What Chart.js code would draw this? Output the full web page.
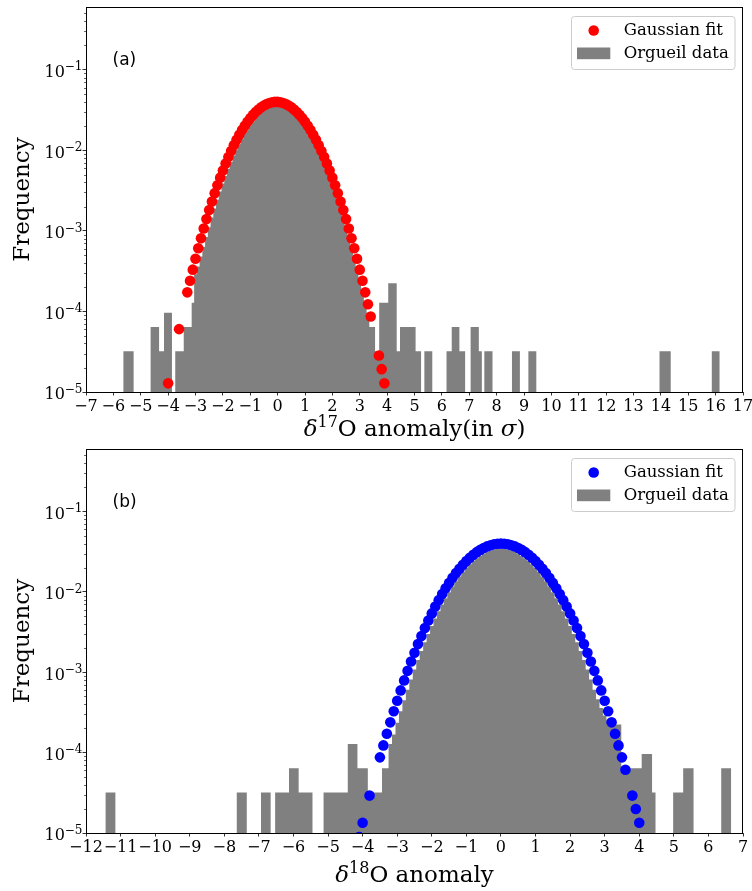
<!DOCTYPE html>
<html><head><meta charset="utf-8">
<script src="https://cdn.jsdelivr.net/npm/chart.js@4/dist/chart.umd.min.js"></script>
<style>
html,body{margin:0;padding:0;background:#fff;}
#wrap{position:relative;width:752px;height:891px;overflow:hidden;}
canvas{position:absolute;left:0;}
</style></head><body>
<div id="wrap">
<canvas id="ca" width="752" height="452" style="top:0"></canvas>
<canvas id="cb" width="752" height="451" style="top:440px"></canvas>
</div>
<script>
// ---------------- data ----------------
const yMin = 1e-5, yMax = 0.6;
const yDecades = [1e-5, 1e-4, 1e-3, 1e-2, 1e-1];
const yExponents = ['\u22125', '\u22124', '\u22123', '\u22122', '\u22121'];

// Panel (a): delta-17O
const xTicksA = [-7,-6,-5,-4,-3,-2,-1,0,1,2,3,4,5,6,7,8,9,10,11,12,13,14,15,16,17];
const histEdgesA = [-5.64,-5.26,-4.64,-4.33,-4.15,-3.86,-3.74,-3.43,-3.14,-3.05,
  -2.95,-2.85,-2.75,-2.65,-2.55,-2.45,-2.35,-2.25,-2.15,-2.05,-1.95,-1.85,-1.75,-1.65,-1.55,-1.45,-1.35,-1.25,-1.15,-1.05,
  -0.95,-0.85,-0.75,-0.65,-0.55,-0.45,-0.35,-0.25,-0.15,-0.05,0.05,0.15,0.25,0.35,0.45,0.55,0.65,0.75,0.85,0.95,
  1.05,1.15,1.25,1.35,1.45,1.55,1.65,1.75,1.85,1.95,2.05,2.15,2.25,2.35,2.45,2.55,2.65,2.75,2.85,2.95,3.05,3.15,3.25,3.35,3.45,
  3.56,3.71,4.04,4.35,4.47,5.04,5.24,5.36,5.65,6.17,6.36,6.64,6.85,7.05,7.35,7.46,7.55,7.85,8.56,8.85,9.16,9.45,13.95,14.36,15.86,16.15];
const histFreqA = [3.2e-5,0,6.4e-5,3.2e-5,9.6e-5,0,3.2e-5,6.4e-5,1.28e-4,
  2.9e-4,3.6e-4,4.8e-4,6.3e-4,8.4e-4,1.11e-3,1.46e-3,1.89e-3,2.43e-3,3.08e-3,3.87e-3,4.80e-3,5.90e-3,7.16e-3,8.60e-3,
  0.01021,0.01198,0.01392,0.01599,0.01816,0.02040,0.02266,0.02490,0.02706,0.02908,0.03091,0.03249,0.03377,0.03472,0.03530,
  0.0355,
  0.03530,0.03472,0.03377,0.03249,0.03091,0.02908,0.02706,0.02490,0.02266,0.02040,0.01816,0.01599,0.01392,0.01198,0.01021,
  8.60e-3,7.16e-3,5.90e-3,4.80e-3,3.87e-3,3.08e-3,2.43e-3,1.89e-3,1.46e-3,1.11e-3,8.4e-4,6.3e-4,4.6e-4,3.4e-4,2.4e-4,1.6e-4,1.28e-4,9.6e-5,6.4e-5,
  6.4e-5,3.2e-5,1.28e-4,2.24e-4,3.2e-5,6.4e-5,3.2e-5,0,3.2e-5,0,3.2e-5,6.4e-5,3.2e-5,0,6.4e-5,3.2e-5,0,3.2e-5,0,3.2e-5,0,3.2e-5,0,3.2e-5,0,3.2e-5];
const fitXA = [-4.0,-3.6,-3.3,-3.2,-3.1,-3.0,-2.9,-2.8,-2.7,-2.6,-2.5,-2.4,-2.3,-2.2,-2.1,-2.0,-1.9,-1.8,-1.7,-1.6,-1.5,-1.4,-1.3,-1.2,-1.1,-1.0,
  -0.9,-0.8,-0.7,-0.6,-0.5,-0.4,-0.3,-0.2,-0.1,0.0,0.1,0.2,0.3,0.4,0.5,0.6,0.7,0.8,0.9,1.0,1.1,1.2,1.3,1.4,1.5,1.6,1.7,1.8,1.9,2.0,
  2.1,2.2,2.3,2.4,2.5,2.6,2.7,2.8,2.9,3.0,3.1,3.2,3.3,3.4,3.7,3.8,3.9];
const fitYA = [1.28e-5,6.03e-5,1.726e-4,2.40e-4,3.30e-4,4.50e-4,6.07e-4,8.10e-4,1.070e-3,1.399e-3,1.809e-3,2.317e-3,2.937e-3,3.685e-3,4.576e-3,
  5.622e-3,6.839e-3,8.233e-3,9.809e-3,0.011569,0.013503,0.015599,0.017835,0.020184,0.022605,0.025060,0.027496,0.029859,0.032094,0.034140,
  0.035945,0.037460,0.038636,0.039440,0.039849,0.039849,0.039440,0.038636,0.037460,0.035945,0.034140,0.032094,0.029859,0.027496,0.025060,
  0.022605,0.020184,0.017835,0.015599,0.013503,0.011569,9.809e-3,8.233e-3,6.839e-3,5.622e-3,4.576e-3,3.685e-3,2.937e-3,2.317e-3,1.809e-3,
  1.399e-3,1.070e-3,8.10e-4,6.07e-4,4.50e-4,3.30e-4,2.40e-4,1.726e-4,1.230e-4,8.65e-5,2.84e-5,1.92e-5,1.28e-5];

// Panel (b): delta-18O
const xTicksB = [-12,-11,-10,-9,-8,-7,-6,-5,-4,-3,-2,-1,0,1,2,3,4,5,6,7];
const histEdgesB = [-11.44,-11.15,-7.64,-7.35,-6.94,-6.66,-6.53,-6.13,-5.85,-5.45,-5.13,-4.43,-4.15,-3.85,-3.44,-3.25,
  -3.15,-3.05,-2.95,-2.85,-2.75,-2.65,-2.55,-2.45,-2.35,-2.25,-2.15,-2.05,-1.95,-1.85,-1.75,-1.65,-1.55,-1.45,-1.35,-1.25,-1.15,-1.05,
  -0.95,-0.85,-0.75,-0.65,-0.55,-0.45,-0.35,-0.25,-0.15,-0.05,0.05,0.15,0.25,0.35,0.45,0.55,0.65,0.75,0.85,0.95,
  1.05,1.15,1.25,1.35,1.45,1.55,1.65,1.75,1.85,1.95,2.05,2.15,2.25,2.35,2.45,2.55,2.65,2.75,2.85,2.95,3.05,3.15,3.25,3.35,
  3.48,4.07,4.37,4.47,4.98,5.27,5.57,6.37,6.66];
const histFreqB = [3.2e-5,0,3.2e-5,0,3.2e-5,0,3.2e-5,6.4e-5,3.2e-5,0,3.2e-5,1.28e-4,6.4e-5,3.2e-5,6.4e-5,1.28e-4,
  1.68e-4,2.36e-4,3.27e-4,4.48e-4,6.08e-4,8.15e-4,1.08e-3,1.42e-3,1.84e-3,2.36e-3,3.00e-3,3.76e-3,4.67e-3,5.73e-3,6.96e-3,8.35e-3,
  9.92e-3,0.01165,0.01353,0.01554,0.01765,0.01983,0.02203,0.02420,0.02630,0.02826,0.03004,0.03157,0.03282,0.03374,0.03431,
  0.0345,
  0.03431,0.03374,0.03282,0.03157,0.03004,0.02826,0.02630,0.02420,0.02203,0.01983,0.01765,0.01554,0.01353,0.01165,9.92e-3,
  8.35e-3,6.96e-3,5.73e-3,4.67e-3,3.76e-3,3.00e-3,2.36e-3,1.84e-3,1.42e-3,1.08e-3,8.15e-4,6.08e-4,4.6e-4,3.6e-4,2.9e-4,2.56e-4,2.24e-4,2.24e-4,
  2.24e-4,6.4e-5,9.6e-5,3.2e-5,0,3.2e-5,6.4e-5,0,6.4e-5];
const fitXB = [-4.1,-4.0,-3.8,-3.5,-3.4,-3.3,-3.2,-3.1,-3.0,-2.9,-2.8,-2.7,-2.6,-2.5,-2.4,-2.3,-2.2,-2.1,-2.0,-1.9,-1.8,-1.7,-1.6,-1.5,-1.4,
  -1.3,-1.2,-1.1,-1.0,-0.9,-0.8,-0.7,-0.6,-0.5,-0.4,-0.3,-0.2,-0.1,0.0,0.1,0.2,0.3,0.4,0.5,0.6,0.7,0.8,0.9,1.0,1.1,1.2,1.3,1.4,1.5,
  1.6,1.7,1.8,1.9,2.0,2.1,2.2,2.3,2.4,2.5,2.6,2.7,2.8,2.9,3.0,3.1,3.2,3.3,3.4,3.5,3.6,3.8,3.9,4.0];
const fitYB = [8.9e-6,1.34e-5,2.92e-5,8.73e-5,1.23e-4,1.72e-4,2.38e-4,3.27e-4,4.43e-4,5.95e-4,7.92e-4,1.042e-3,1.359e-3,1.75e-3,2.24e-3,
  2.83e-3,3.55e-3,4.40e-3,5.40e-3,6.56e-3,7.90e-3,9.41e-3,0.01109,0.01295,0.01497,0.01714,0.01942,0.02179,0.02420,0.02661,0.02897,
  0.03123,0.03333,0.03521,0.03683,0.03814,0.03911,0.03970,0.0399,0.03970,0.03911,0.03814,0.03683,0.03521,0.03333,0.03123,0.02897,
  0.02661,0.02420,0.02179,0.01942,0.01714,0.01497,0.01295,0.01109,9.41e-3,7.90e-3,6.56e-3,5.40e-3,4.40e-3,3.55e-3,2.83e-3,2.24e-3,
  1.75e-3,1.359e-3,1.042e-3,7.92e-4,5.95e-4,4.43e-4,3.27e-4,2.38e-4,1.72e-4,1.23e-4,8.73e-5,6.12e-5,2.92e-5,1.99e-5,1.34e-5];

// ---------------- helpers ----------------
const SERIF = '"DejaVu Serif", serif';
const SANS = '"DejaVu Sans", sans-serif';
function stepPoints(edges, freq) {
  return edges.map((e, i) => {
    const f = i < freq.length ? freq[i] : 0;
    return {x: e, y: f > 0 ? f : yMin};
  });
}
function drawMixed(ctx, parts, cx, baseline) {
  let total = 0;
  parts.forEach(p => { ctx.font = p[1]; total += ctx.measureText(p[0]).width; });
  let x = cx - total / 2;
  ctx.textAlign = 'left'; ctx.textBaseline = 'alphabetic';
  parts.forEach(p => { ctx.font = p[1]; ctx.fillText(p[0], x, baseline + (p[2] || 0)); x += ctx.measureText(p[0]).width; });
}

function makeDecor(cfg) {
  return {
    id: 'decor',
    afterDraw(chart) {
      const ctx = chart.ctx, a = chart.chartArea, ys = chart.scales.y;
      ctx.save();
      ctx.strokeStyle = '#000'; ctx.lineWidth = 1;
      ctx.strokeRect(a.left + 0.5, a.top + 0.5, a.right - a.left - 1, a.bottom - a.top);
      ctx.lineWidth = 0.6;
      ctx.beginPath();
      yDecades.forEach(d => {
        for (let m = 2; m <= 9; m++) {
          const v = m * d; if (v > yMax) break;
          const py = Math.round(ys.getPixelForValue(v)) + 0.5;
          ctx.moveTo(a.left - 2, py); ctx.lineTo(a.left, py);
        }
      });
      ctx.stroke();
      ctx.fillStyle = '#000'; ctx.textAlign = 'right'; ctx.textBaseline = 'alphabetic';
      yDecades.forEach((d, i) => {
        const py = ys.getPixelForValue(d);
        ctx.font = '12px ' + SERIF;
        const ew = ctx.measureText(yExponents[i]).width;
        ctx.fillText(yExponents[i], a.left - 3.5, py + 0.8);
        ctx.font = '16px ' + SERIF;
        ctx.fillText('10', a.left - 3.5 - ew, py + 7.3);
      });
      ctx.save();
      ctx.translate(23, (a.top + a.bottom) / 2);
      ctx.rotate(-Math.PI / 2);
      ctx.font = '23px ' + SERIF; ctx.textAlign = 'center'; ctx.textBaseline = 'middle';
      ctx.fillText('Frequency', 0, 0);
      ctx.restore();
      drawMixed(ctx, cfg.xTitle, (a.left + a.right) / 2, a.bottom + cfg.xTitleDy);
      ctx.font = '17px ' + SANS; ctx.textAlign = 'left'; ctx.textBaseline = 'middle';
      ctx.fillText(cfg.panel, a.left + 26.5, a.top + 54);
      const L = a.right - 172, T = a.top + 9, W = 163.5, H = 53;
      ctx.beginPath();
      if (ctx.roundRect) ctx.roundRect(L + 0.5, T + 0.5, W, H, 3); else ctx.rect(L + 0.5, T + 0.5, W, H);
      ctx.fillStyle = 'rgba(255,255,255,0.8)'; ctx.fill();
      ctx.strokeStyle = '#cccccc'; ctx.lineWidth = 1; ctx.stroke();
      ctx.fillStyle = cfg.color;
      ctx.beginPath(); ctx.arc(L + 22.7, T + 14.5, 5.3, 0, Math.PI * 2); ctx.fill();
      ctx.fillStyle = '#808080';
      ctx.fillRect(L + 6, T + 31.5, 33.3, 11.7);
      ctx.fillStyle = '#000'; ctx.font = '16.5px ' + SERIF; ctx.textAlign = 'left'; ctx.textBaseline = 'middle';
      ctx.fillText('Gaussian fit', L + 52.7, T + 14.5);
      ctx.fillText('Orgueil data', L + 52.7, T + 37.5);
      ctx.restore();
    }
  };
}

function makeChart(id, cfg) {
  const tickGrid = {drawOnChartArea: false, drawTicks: true, tickLength: 3.5, tickWidth: 0.8, tickColor: '#000', color: '#000'};
  return new Chart(document.getElementById(id), {
    type: 'scatter',
    data: {datasets: [
      {type: 'scatter', label: 'Gaussian fit', data: cfg.fitX.map((x, i) => ({x: x, y: cfg.fitY[i]})),
       backgroundColor: cfg.color, borderWidth: 0, pointRadius: 5.3, pointHoverRadius: 5.3, order: 0},
      {type: 'line', label: 'Orgueil data', data: stepPoints(cfg.edges, cfg.freq), stepped: true, fill: 'start',
       backgroundColor: '#808080', borderColor: '#808080', borderWidth: 0, pointRadius: 0, order: 1}
    ]},
    options: {
      responsive: false, animation: false, devicePixelRatio: 1,
      layout: {padding: {left: 0, right: 9, top: cfg.padTop, bottom: 0}},
      plugins: {legend: {display: false}, tooltip: {enabled: false}},
      scales: {
        x: {type: 'linear', min: cfg.xTicks[0], max: cfg.xTicks[cfg.xTicks.length - 1],
            afterBuildTicks: ax => { ax.ticks = cfg.xTicks.map(v => ({value: v})); },
            afterFit: ax => { ax.height = cfg.xAxisH; ax.paddingLeft = 0; ax.paddingRight = 0; },
            grid: tickGrid, border: {display: false},
            ticks: {autoSkip: false, maxRotation: 0, minRotation: 0, padding: 2, color: '#000',
                    font: {family: '"DejaVu Serif"', size: 16},
                    callback: v => String(v).replace('-', '\u2212')}},
        y: {type: 'logarithmic', min: yMin, max: yMax,
            afterBuildTicks: ax => { ax.ticks = yDecades.map(v => ({value: v})); },
            afterFit: ax => { ax.width = 86; ax.paddingTop = 0; ax.paddingBottom = 0; },
            grid: tickGrid, border: {display: false},
            ticks: {display: false}}
      }
    },
    plugins: [makeDecor(cfg)]
  });
}

const it = 'italic 23px ' + SERIF, rm = '23px ' + SERIF, sup = '16px ' + SERIF;
makeChart('ca', {edges: histEdgesA, freq: histFreqA, fitX: fitXA, fitY: fitYA, color: '#ff0000', xTicks: xTicksA,
  padTop: 7, xAxisH: 60, panel: '(a)', xTitleDy: 44,
  xTitle: [['\u03b4', it], ['17', sup, -9], ['O anomaly(in ', rm], ['\u03c3', it], [')', rm]]});
makeChart('cb', {edges: histEdgesB, freq: histFreqB, fitX: fitXB, fitY: fitYB, color: '#0000ff', xTicks: xTicksB,
  padTop: 9, xAxisH: 58, panel: '(b)', xTitleDy: 49,
  xTitle: [['\u03b4', it], ['18', sup, -9], ['O anomaly', rm]]});
</script>
</body></html>
